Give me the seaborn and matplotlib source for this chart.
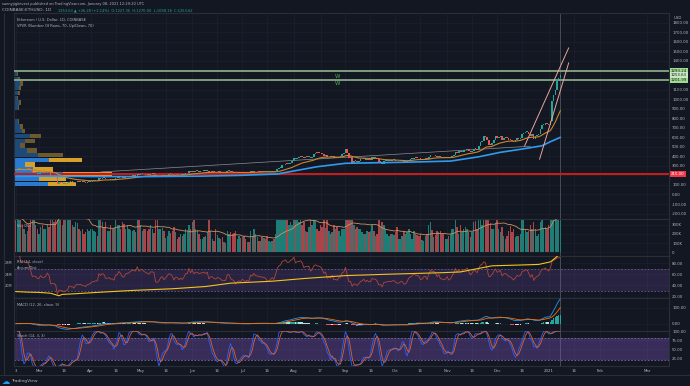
import numpy as np
import pandas as pd
import matplotlib
matplotlib.use("Agg")
import matplotlib.pyplot as plt
import seaborn as sns

sns.set_theme(style="dark")
plt.rcParams['font.family'] = ['DejaVu Sans']
plt.rcParams['patch.linewidth'] = 0

BG = '#131722'
GRID = '#1c2030'
LINE = '#2a2e39'
TXT = '#b2b5be'
GREEN = '#26a69a'

# --- data: COINBASE:ETHUSD daily closes, Feb 16 2020 .. Jan 8 2021 ---
close = [
    259, 267, 282, 258, 257, 265, 262, 274, 265, 248, 225, 227, 226, 218,  # Feb
    218, 231, 224, 224, 228, 244, 237, 199, 201, 200, 194, 112, 133, 124, 125, 110,
    115, 117, 136, 132, 132, 122, 135, 138, 136, 138, 131, 130, 125, 132, 133,  # Mar
    136, 141, 141, 144, 143, 170, 164, 173, 170, 158, 158, 161, 156, 157, 153,
    171, 171, 186, 180, 171, 170, 182, 185, 187, 194, 197, 197, 196, 216, 206,  # Apr
    212, 215, 210, 208, 206, 204, 212, 212, 211, 188, 186, 190, 199, 203, 194, 200,
    207, 214, 213, 209, 198, 207, 206, 200, 205, 201, 208, 220, 220, 244, 232,  # May
    247, 236, 243, 244, 240, 242, 244, 246, 243, 248, 230, 237, 238, 233, 231,
    235, 235, 232, 228, 229, 228, 243, 244, 235, 232, 230, 221, 226, 228, 226,  # Jun
    231, 229, 226, 229, 227, 241, 239, 247, 242, 242, 240, 241, 239, 240, 238, 233,
    233, 236, 239, 236, 245, 263, 275, 280, 305, 311, 322, 317, 318, 334, 346,  # Jul
    386, 370, 387, 390, 401, 395, 379, 391, 390, 396, 379, 390, 426, 438, 434, 433,
    430, 424, 407, 416, 388, 396, 391, 408, 384, 386, 382, 396, 399, 428, 434,  # Aug
    477, 440, 384, 388, 335, 353, 351, 338, 351, 368, 374, 387, 365, 377, 364,
    365, 389, 384, 384, 371, 341, 344, 322, 349, 352, 354, 357, 354, 359, 360,  # Sep
    353, 346, 346, 352, 353, 341, 341, 350, 365, 370, 375, 387, 381, 380, 378, 366,
    368, 377, 379, 368, 392, 414, 410, 412, 406, 393, 404, 388, 386, 383, 386,  # Oct
    396, 383, 388, 402, 415, 449, 434, 453, 445, 450, 462, 464, 475, 461, 448,
    460, 481, 479, 471, 509, 549, 558, 608, 604, 568, 518, 517, 538, 575, 615,  # Nov
    588, 598, 616, 569, 596, 601, 591, 574, 573, 560, 545, 568, 590, 585, 589, 636,
    643, 655, 658, 637, 608, 635, 584, 612, 627, 635, 683, 731, 731, 752, 737,  # Dec
    729, 775, 978, 1042, 1100, 1208, 1225, 1254,  # Jan 2021
]
first_open = 262

# daily volume, thousands of ETH
volume = [
    380, 350, 420, 390, 300, 250, 200, 230, 300, 380, 420, 360, 300, 250,
    200, 280, 300, 250, 260, 300, 280, 450, 420, 330, 350, 900, 800, 350, 300, 450,
    380, 350, 420, 400, 300, 280, 330, 320, 260, 230, 250, 200, 220, 260, 230,
    250, 260, 230, 220, 180, 420, 350, 330, 280, 330, 230, 230, 300, 250, 270,
    380, 300, 300, 250, 330, 310, 260, 300, 250, 240, 230, 240, 220, 400, 420,
    300, 230, 260, 260, 230, 250, 300, 260, 210, 400, 380, 260, 260, 270, 230, 160,
    180, 230, 210, 230, 280, 220, 150, 170, 200, 180, 200, 250, 230, 300, 250,
    330, 400, 250, 240, 200, 140, 150, 170, 180, 220, 360, 230, 140, 120, 250,
    190, 160, 150, 170, 110, 100, 230, 200, 220, 200, 210, 230, 140, 180, 160,
    170, 180, 140, 110, 110, 230, 180, 250, 200, 170, 120, 120, 170, 160, 140, 180,
    120, 110, 120, 150, 200, 380, 400, 350, 400, 360, 450, 400, 300, 330, 300,
    400, 600, 380, 330, 350, 300, 330, 230, 220, 280, 380, 300, 380, 340, 250, 230,
    300, 280, 350, 270, 350, 230, 200, 220, 300, 260, 280, 230, 180, 250, 250,
    480, 550, 600, 400, 450, 300, 250, 280, 250, 260, 220, 200, 200, 230, 220,
    230, 300, 230, 180, 200, 350, 280, 330, 300, 250, 200, 180, 200, 200, 190,
    220, 280, 150, 140, 180, 230, 200, 220, 250, 200, 150, 230, 200, 190, 180, 200,
    130, 120, 180, 200, 300, 330, 240, 170, 190, 230, 220, 230, 200, 200, 150,
    150, 180, 200, 250, 260, 380, 280, 200, 300, 220, 260, 280, 260, 220, 170,
    220, 330, 340, 260, 350, 400, 300, 380, 450, 380, 500, 320, 250, 250, 320,
    450, 250, 220, 280, 180, 150, 180, 230, 290, 220, 260, 170, 180, 180, 200, 400,
    380, 250, 220, 230, 300, 250, 330, 260, 180, 200, 330, 400, 250, 280, 250,
    300, 400, 800, 900, 600, 700, 600, 550,
]
first_day = -14          # Feb 16 2020, days counted from Mar 1 2020

# slow moving average (blue), read at a few dates
ma_slow_days = [-14, 0, 30, 60, 96, 120, 143, 167, 184, 217, 247, 264, 277, 290, 302, 307, 313]
ma_slow_vals = [190, 192, 188, 187, 192, 200, 215, 291, 327, 337, 350, 395, 442, 476, 511, 553, 599]

# Accumulation/Distribution (millions), read at a few dates
ad_days = [-14, -7, 0, 7, 12, 14, 21, 35, 56, 80, 100, 115, 140, 160, 184, 210, 240, 253, 272, 290, 300, 307, 310, 313]
ad_vals = [17.8, 17.6, 17.5, 17.2, 16.3, 16.8, 17.0, 17.5, 18.2, 18.8, 19.6, 20.8, 21.5, 22.5,
           23.5, 24.0, 24.5, 24.8, 27.0, 27.3, 27.5, 28.4, 29.8, 31.4]

# visible range volume profile: row bottoms (USD), up / down volume per row
vp_bottom = [90, 140, 190, 240, 290, 340, 390, 440, 490, 540, 590, 640, 690, 740,
             790, 840, 890, 940, 990, 1040, 1090, 1140, 1190, 1240]
vp_up = [34, 25, 49, 19, 11, 35, 24, 13, 6, 11, 16, 8, 6, 4, 1, 1, 4, 5, 3, 4, 5, 6, 4, 3]
vp_down = [28, 27, 49, 20, 10, 33, 25, 10, 5, 10, 11, 3, 3, 1, 0, 0, 1, 2, 1, 2, 2, 3, 2, 1]
vp_value_area = [1, 1, 1, 1, 1, 1, 0, 0, 0, 0, 0, 0, 0, 0, 0, 0, 0, 0, 0, 0, 0, 0, 0, 0]
vp_poc = 2

# drawn levels and trend lines
green_levels = [1293, 1202]
green_labels = ['1293.24', '1201.99']
last_label = '1253.63'
red_level = 215
red_label = '215.00'
trend_days = [37, 295]
trend_prices = [236, 506]
chan1_days = [291.5, 318]
chan1_prices = [508, 1537]
chan2_days = [300.5, 318]
chan2_prices = [369, 1380]

tick_days = [-14, 0, 15, 31, 46, 61, 76, 92, 107, 122, 137, 153, 169, 184, 199, 214, 229,
             245, 260, 275, 290, 306, 321, 337, 365]
tick_labels = ['3', 'Mar', '16', 'Apr', '16', 'May', '16', 'Jun', '16', 'Jul', '16', 'Aug',
               '17', 'Sep', '16', 'Oct', '16', 'Nov', '16', 'Dec', '16', '2021', '16', 'Feb', 'Mar']

# --- derived series ---
days = np.arange(first_day, first_day + len(close))
c = pd.Series(close, dtype=float)
o = c.shift(1).fillna(first_open)
up = c >= o
ema_fast = c.ewm(span=21, adjust=False).mean()
vol = pd.Series(volume, dtype=float)
vol_ma = vol.rolling(20, min_periods=1).mean()

delta = c.diff()
gain = delta.clip(lower=0).ewm(alpha=1 / 14, adjust=False).mean()
loss = (-delta.clip(upper=0)).ewm(alpha=1 / 14, adjust=False).mean()
rsi = 100 - 100 / (1 + gain / loss)

macd = c.ewm(span=12, adjust=False).mean() - c.ewm(span=26, adjust=False).mean()
signal = macd.ewm(span=9, adjust=False).mean()
hist = macd - signal

lo = c.rolling(14, min_periods=2).min()
hi = c.rolling(14, min_periods=2).max()
raw_k = 100 * (c - lo) / (hi - lo)
k = raw_k.rolling(3, min_periods=1).mean()
d = k.rolling(3, min_periods=1).mean()

# --- figure / panels ---
W, H = 690, 386
FS = 2.8      # axis labels
TS = 2.6      # titles / legends
fig = plt.figure(figsize=(W / 100, H / 100), dpi=100, facecolor=BG)


def panel(top, bottom):
    ax = fig.add_axes([14 / W, 1 - bottom / H, 655 / W, (bottom - top) / H])
    ax.set_facecolor(BG)
    for sp in ax.spines.values():
        sp.set_color(LINE)
        sp.set_linewidth(0.8)
    ax.set_xlim(-15, 378.2)
    ax.set_xticks(tick_days)
    ax.set_xticklabels([])
    ax.yaxis.tick_right()
    ax.tick_params(length=0, labelsize=FS, colors=TXT, pad=2.2)
    ax.grid(True, color=GRID, lw=0.5)
    ax.set_axisbelow(True)
    ax.axvline(313, color='#5d606b', lw=0.5, zorder=1)
    return ax


ax_p = panel(13, 219.3)
ax_v = panel(219.3, 256)
ax_r = panel(256, 298)
ax_m = panel(298, 330.7)
ax_s = panel(330.7, 366)

# main price panel
ax_p.set_ylim(-260, 1902)
pt = list(range(-200, 1900, 100))
ax_p.set_yticks(pt)
ax_p.set_yticklabels(['' if v in (200, 1200, 1300) else f'{v:.2f}' for v in pt])

vp_total = np.array(vp_up) + np.array(vp_down)
scale = (98 / 1.6658) / vp_total.max()
for i, b in enumerate(vp_bottom):
    bright = vp_value_area[i] == 1
    ax_p.barh(b, vp_up[i] * scale, height=46, left=-15, align='edge', lw=0,
              color='#2a7bcf' if bright else '#1d4a78', zorder=2)
    ax_p.barh(b, vp_down[i] * scale, height=46, left=-15 + vp_up[i] * scale, align='edge', lw=0,
              color=('#f29a2e' if i == vp_poc else '#d4a22c') if bright else '#6b5a30', zorder=2)

ax_p.plot(trend_days, trend_prices, color='#8a8d96', lw=0.5, zorder=3)
ax_p.axhline(red_level, color='#c21d1d', lw=1.5, zorder=3)
for lv in green_levels:
    ax_p.axhline(lv, color='#86a886', lw=1.3, zorder=3)

body_lo = np.minimum(o, c)
body_h = np.maximum(np.abs(c - o), 9)
ax_p.bar(days, body_h, bottom=body_lo, width=0.9, lw=0,
         color=np.where(up, GREEN, '#ef5350'), zorder=4)
sns.lineplot(x=days, y=ema_fast, ax=ax_p, color='#c9862e', lw=0.8, legend=False, zorder=5)
sns.lineplot(x=ma_slow_days, y=ma_slow_vals, ax=ax_p, color='#2e9bf0', lw=1.2, legend=False, zorder=5)
ax_p.plot(chan1_days, chan1_prices, color='#e8a49c', lw=0.7, zorder=6)
ax_p.plot(chan2_days, chan2_prices, color='#e8a49c', lw=0.7, zorder=6)

ytr = ax_p.get_yaxis_transform()
box = dict(boxstyle='square,pad=0.25', ec='none')
for lv, lb in zip(green_levels, green_labels):
    ax_p.text(1.003, lv, lb, transform=ytr, fontsize=FS, color='#131722', va='center',
              bbox=dict(box, fc='#9fdc8f'), clip_on=False)
ax_p.text(1.003, (green_levels[0] + green_levels[1]) / 2, last_label, transform=ytr, fontsize=FS,
          color='#131722', va='center', bbox=dict(box, fc='#c8e6c0'), clip_on=False)
ax_p.text(1.003, red_level, red_label, transform=ytr, fontsize=FS, color='white', va='center',
          bbox=dict(box, fc='#f23645'), clip_on=False)
ax_p.text(1.013, 1850, 'USD', transform=ytr, fontsize=FS, color=TXT, ha='center', va='center')
ax_p.text(179, 1232, 'W', fontsize=4, color='#4caf50', ha='center', va='center', zorder=6)
ax_p.text(179, 1158, 'W', fontsize=4, color='#4caf50', ha='center', va='center', zorder=6)
ax_p.text(0.005, 0.975, 'Ethereum / U.S. Dollar, 1D, COINBASE', transform=ax_p.transAxes,
          fontsize=TS, color=TXT, va='top')
ax_p.text(0.005, 0.947, 'VPVR (Number Of Rows, 70, Up/Down, 70)', transform=ax_p.transAxes,
          fontsize=TS, color=TXT, va='top')

# volume panel
ax_v.set_ylim(-44, 363)
ax_v.set_yticks([0, 100, 200, 300])
ax_v.set_yticklabels(['0', '100K', '200K', '300K'])
ax_v.bar(days, vol, width=0.85, lw=0, color=np.where(up, '#1f7d76', '#a8444a'), zorder=2)
sns.lineplot(x=days, y=vol_ma, ax=ax_v, color='#c9925e', lw=0.6, legend=False, zorder=3)
ax_v.text(0.005, 0.88, 'Vol (20)', transform=ax_v.transAxes, fontsize=TS, color=TXT, va='top')

# RSI + Accum/Dist panel
ax_r.set_ylim(17.7, 92.5)
ax_r.set_yticks([20, 40, 60, 80])
ax_r.set_yticklabels(['20.00', '40.00', '60.00', '80.00'])
ax_r.axhspan(30, 70, color='#7e57c2', alpha=0.2, lw=0, zorder=1)
for lv in (30, 70):
    ax_r.axhline(lv, color='#6a5d8a', lw=0.6, ls=(0, (2, 2)), zorder=1)
sns.lineplot(x=days, y=rsi, ax=ax_r, color='#b0473a', lw=0.6, legend=False, zorder=3)
ax_ad = ax_r.twinx()
ax_r.yaxis.tick_right()
ax_ad.yaxis.tick_left()
ax_ad.set_ylim(15.5, 30.5)
ax_ad.set_yticks([20, 24, 28])
ax_ad.set_yticklabels(['20M', '24M', '28M'])
ax_ad.tick_params(length=0, labelsize=2.5, colors=TXT, pad=1.5)
ax_ad.grid(False)
for sp in ax_ad.spines.values():
    sp.set_visible(False)
sns.lineplot(x=ad_days, y=ad_vals, ax=ax_ad, color='#f2c41c', lw=0.8, legend=False, zorder=4)
ax_ad.set_xlabel('')
ax_ad.set_ylabel('')
ax_r.text(0.005, 0.9, 'RSI (14, close)', transform=ax_r.transAxes, fontsize=TS, color=TXT, va='top')
ax_r.text(0.005, 0.77, 'Accum/Dist', transform=ax_r.transAxes, fontsize=TS, color=TXT, va='top')

# MACD panel
ax_m.set_ylim(-43.75, 160.6)
ax_m.set_yticks([0, 100])
ax_m.set_yticklabels(['0.00', '100.00'])
hd = hist.diff().fillna(0)
hc = np.where(hist >= 0, np.where(hd >= 0, GREEN, '#b2dfdb'),
              np.where(hd <= 0, '#ef5350', '#ffcdd2'))
ax_m.bar(days, hist, width=0.85, lw=0, color=hc, zorder=2)
sns.lineplot(x=days, y=macd, ax=ax_m, color='#2196f3', lw=0.6, legend=False, zorder=3)
sns.lineplot(x=days, y=signal, ax=ax_m, color='#ff6d00', lw=0.6, legend=False, zorder=3)
ax_m.text(0.005, 0.86, 'MACD (12, 26, close, 9)', transform=ax_m.transAxes, fontsize=TS,
          color=TXT, va='top')

# Stochastic panel
ax_s.set_ylim(5, 101)
ax_s.set_yticks([25, 50, 75, 100])
ax_s.set_yticklabels(['25.00', '50.00', '75.00', '100.00'])
ax_s.axhspan(20, 80, color='#7e57c2', alpha=0.35, lw=0, zorder=1)
for lv in (20, 80):
    ax_s.axhline(lv, color='#7c6aa8', lw=0.6, ls=(0, (2, 2)), zorder=1)
sns.lineplot(x=days, y=k, ax=ax_s, color='#2962ff', lw=0.6, legend=False, zorder=3)
sns.lineplot(x=days, y=d, ax=ax_s, color='#e0602a', lw=0.6, legend=False, zorder=3)
ax_s.text(0.005, 0.9, 'Stoch (14, 3, 3)', transform=ax_s.transAxes, fontsize=TS, color=TXT, va='top')
ax_s.set_xticklabels(tick_labels)
ax_s.tick_params(axis='x', pad=2.5, labelsize=FS)

for ax in (ax_p, ax_v, ax_r, ax_m, ax_s):
    ax.set_xlabel('')
    ax.set_ylabel('')

# header / footer
fig.text(2 / W, 1 - 4 / H, 'sunnyjigiinvest published on TradingView.com, January 08, 2021 12:29:20 UTC',
         fontsize=TS, color=TXT, va='center')
fig.text(2 / W, 1 - 10 / H, 'COINBASE:ETHUSD, 1D', fontsize=3.1, color=TXT, va='center')
fig.text(58 / W, 1 - 10 / H,
         '1253.63 \u25b2 +26.28 (+2.14%)  O:1227.35  H:1270.00  L:1058.18  C:1253.62',
         fontsize=TS, color=GREEN, va='center')
fig.add_artist(plt.Line2D([0, 1], [1 - 375 / H] * 2, color=LINE, lw=0.8))
fig.add_artist(plt.Line2D([4 / W] * 2, [1 - 13 / H, 1 - 375 / H], color=LINE, lw=0.8))
fig.text(2 / W, 1 - 381 / H, '\u2601', fontsize=6, color='#2196f3', va='center')
fig.text(11 / W, 1 - 381 / H, 'TradingView', fontsize=3.2, color=TXT, va='center')

fig.savefig('out.png', dpi=100, facecolor=BG)
